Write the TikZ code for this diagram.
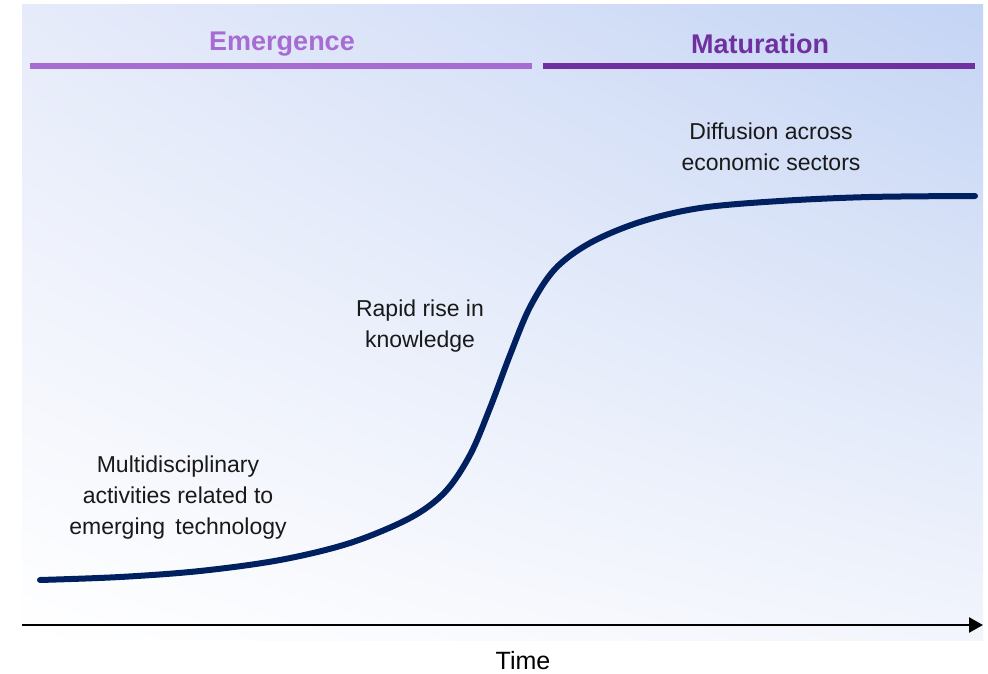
\documentclass[tikz,border=0pt]{standalone}
\usepackage{fontspec}
\setmainfont{Liberation Sans}
\usetikzlibrary{arrows.meta,shadings}
\definecolor{emerg}{RGB}{166,108,210}
\definecolor{matur}{RGB}{112,48,160}
\definecolor{curvec}{RGB}{0,32,96}
\definecolor{bgtr}{RGB}{196,212,244}
\definecolor{bgtl}{RGB}{230,235,250}
\definecolor{bgbr}{RGB}{242,245,252}
\tikzset{
  phase/.style={font=\fontsize{27}{30}\selectfont\bfseries},
  phaseline/.style={line width=6pt},
  lab/.style={font=\fontsize{23}{31}\selectfont, align=center, text=black!90},
}
\begin{document}
\begin{tikzpicture}[x=1pt,y=-1pt]
\useasboundingbox (0,0) rectangle (988,674);
\fill[white] (0,0) rectangle (988,674);
\shade[upper left=bgtl, upper right=bgtr, lower left=white, lower right=bgbr] (22,5) rectangle (983,640);
% phase headers
\node[phase, text=emerg] (em) at (282,44) {Emergence};
\node[phase, text=matur] (ma) at (760,44) {Maturation};
\coordinate (e1) at (30,66); \coordinate (e2) at (532,66);
\coordinate (m1) at (543,66); \coordinate (m2) at (975,66);
\draw[phaseline, emerg] (e1) -- (e2);
\draw[phaseline, matur] (m1) -- (m2);
% S-curve
\draw[curvec, line width=6pt, line cap=round] plot[smooth, tension=0.55] coordinates {
 (40,580) (120,577) (200,571) (280,560) (350,543) (410,518) (445,492) (470,455)
 (490,408) (510,355) (530,307) (555,269) (590,243) (640,222) (700,208) (780,201) (870,197) (975,196)};
% labels
\node[lab] (l1) at (178,498) {Multidisciplinary\\activities related to\\emerging\ \,technology};
\node[lab] (l2) at (420,326) {Rapid rise in\\knowledge};
\node[lab] (l3) at (771,147) {Diffusion across\\economic sectors};
% time axis
\coordinate (a1) at (22,625); \coordinate (a2) at (983,625);
\draw[black, line width=2.5pt, -{Triangle[length=14pt,width=15pt]}] (a1) -- (a2);
\node[font=\fontsize{25}{28}\selectfont] (time) at (523,661) {Time};
\end{tikzpicture}
\end{document}
